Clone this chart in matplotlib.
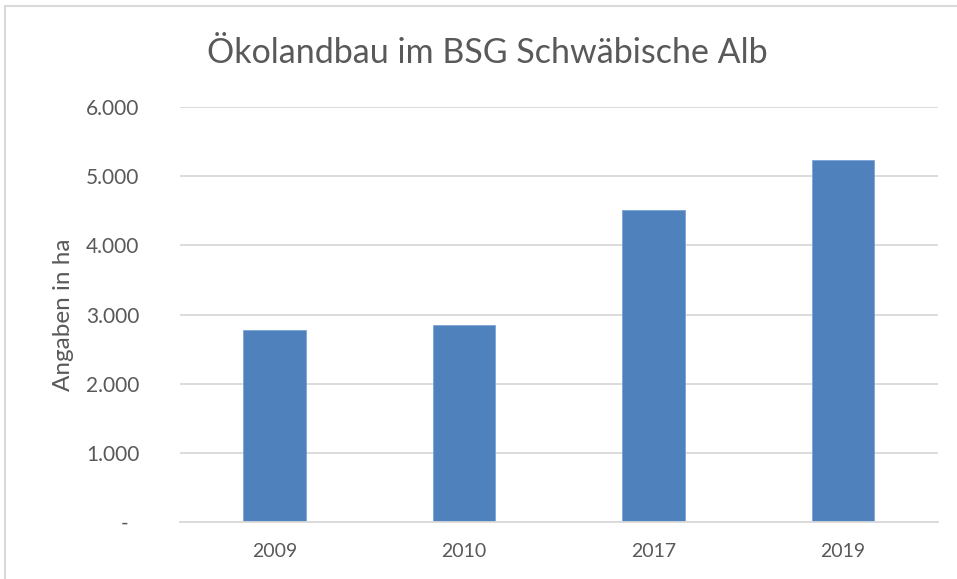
import matplotlib.pyplot as plt
from matplotlib.patches import Rectangle

# data
years = ['2009', '2010', '2017', '2019']
hectares = [2770, 2855, 4505, 5230]
y_ticks = [0, 1000, 2000, 3000, 4000, 5000, 6000]
y_labels = ['-  ', '1.000', '2.000', '3.000', '4.000', '5.000', '6.000']

plt.rcParams['font.family'] = ['Lato', 'DejaVu Sans']
text_col = '#595959'
grid_col = '#d9d9d9'

fig = plt.figure(figsize=(9.57, 5.79), dpi=100)
ax = fig.add_axes([0.188, 0.0984, 0.792, 0.7167])

x = range(len(years))
ax.bar(x, hectares, width=0.33, color='#4f81bd', edgecolor='#7da3d6', linewidth=0.6, zorder=3)

ax.set_xlim(-0.5, len(years) - 0.5)
ax.set_ylim(0, 6000)
ax.set_xticks(list(x))
ax.set_xticklabels(years)
ax.set_yticks(y_ticks)
ax.set_yticklabels(y_labels)
ax.tick_params(axis='x', length=0, pad=15, labelsize=14, labelcolor=text_col)
ax.tick_params(axis='y', length=0, pad=29, labelsize=15, labelcolor=text_col)

ax.grid(axis='y', color=grid_col, linewidth=1.3, zorder=0)
for s in ['top', 'right', 'left']:
    ax.spines[s].set_visible(False)
ax.spines['bottom'].set_color(grid_col)
ax.spines['bottom'].set_linewidth(1.3)
ax.spines['bottom'].set_zorder(4)

ax.set_ylabel('Angaben in ha', fontsize=17.5, color=text_col, labelpad=9)
fig.text(0.509, 0.908, 'Ökolandbau im BSG Schwäbische Alb', ha='center', va='center',
         fontsize=24.5, color=text_col)

# light frame round the chart area
fig.patches.append(Rectangle((0.005, -0.01), 1.1, 1.0, transform=fig.transFigure,
                             fill=False, edgecolor=grid_col, linewidth=1.5))

fig.savefig('out.png', dpi=100)
